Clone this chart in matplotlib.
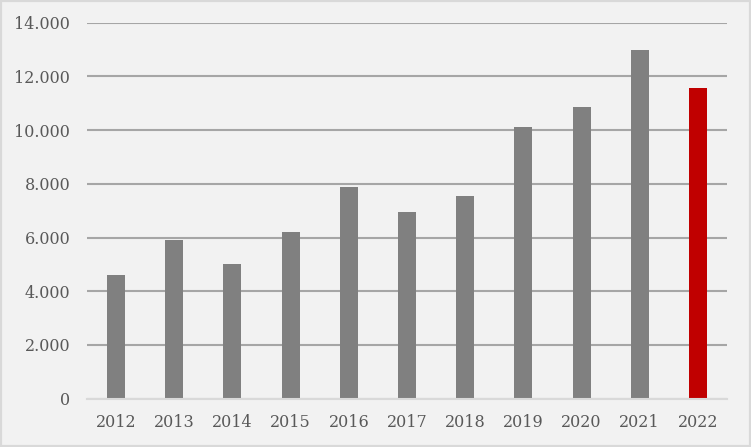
import matplotlib.pyplot as plt
from matplotlib.ticker import FuncFormatter

# Jahre und Werte
years = ['2012', '2013', '2014', '2015', '2016', '2017', '2018', '2019', '2020', '2021', '2022']
values = [4600, 5900, 5000, 6200, 7900, 6950, 7550, 10100, 10850, 13000, 11550]
colors = ['#808080'] * 10 + ['#c00000']

fig = plt.figure(figsize=(7.51, 4.47), dpi=100, facecolor='#f2f2f2')
fig.patches.append(plt.Rectangle((0, 0), 1, 1, transform=fig.transFigure,
                                 fill=False, edgecolor='#d9d9d9', linewidth=3))
ax = fig.add_axes([87/751, 48.3/447, 640/751, 376/447])
ax.set_facecolor('#f2f2f2')

x = range(len(years))
ax.bar(x, values, width=0.31, color=colors, zorder=3)

ax.set_xlim(-0.5, len(years) - 0.5)
ax.set_ylim(0, 14000)
ax.set_yticks(range(0, 14001, 2000))
ax.yaxis.set_major_formatter(FuncFormatter(lambda v, p: f'{int(v):,}'.replace(',', '.')))
ax.set_xticks(list(x))
ax.set_xticklabels(years)

ax.grid(axis='y', color='#a6a6a6', linewidth=1.5, zorder=0)
for s in ['top', 'right', 'left']:
    ax.spines[s].set_visible(False)
ax.spines['bottom'].set_color('#d9d9d9')
ax.spines['bottom'].set_linewidth(1.5)
ax.spines['bottom'].set_zorder(4)

ax.tick_params(axis='both', length=0, labelsize=11.5, labelcolor='#595959')
ax.tick_params(axis='y', pad=12)
ax.tick_params(axis='x', pad=11)
for lab in ax.get_xticklabels() + ax.get_yticklabels():
    lab.set_fontfamily('DejaVu Serif')

fig.savefig('out.png', dpi=100, facecolor=fig.get_facecolor())
